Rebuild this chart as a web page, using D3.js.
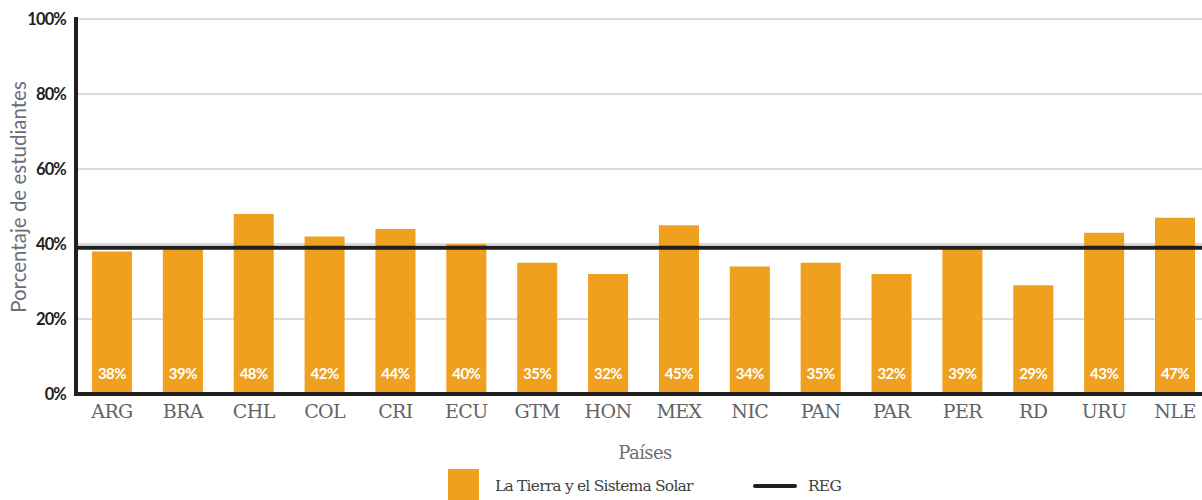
<!DOCTYPE html>
<html><head><meta charset="utf-8">
<script src="https://cdn.jsdelivr.net/npm/d3@7"></script>
<style>body{margin:0;background:#fff}svg{display:block}</style>
</head><body>
<svg id="c" width="1202" height="500"></svg>
<script>
const categories = ["ARG","BRA","CHL","COL","CRI","ECU","GTM","HON","MEX","NIC","PAN","PAR","PER","RD","URU","NLE"];
const values = [38,39,48,42,44,40,35,32,45,34,35,32,39,29,43,47];
const regValue = 39;
const yTicks = [0,20,40,60,80,100];
const seriesName = "La Tierra y el Sistema Solar";
const regName = "REG";

const svg = d3.select("#c");
const orange = "#EFA01E";
const x0 = 76, plotRight = 1202;
const step = (1175 - 112) / 15;
const x = d3.scaleBand().domain(categories)
  .range([112 - step/2, 1175 + step/2]).paddingInner(0.435).paddingOuter(0.2175);
const y = d3.scaleLinear().domain([0,100]).range([394,19]);

// gridlines
svg.append("g").selectAll("line").data(yTicks.filter(d=>d>0)).join("line")
  .attr("x1", x0).attr("x2", plotRight).attr("y1", d=>y(d)).attr("y2", d=>y(d))
  .attr("stroke","#cfcfcf").attr("stroke-width",1.5);

// bars
svg.append("g").selectAll("rect").data(values).join("rect")
  .attr("x",(d,i)=>x(categories[i])).attr("width",x.bandwidth())
  .attr("y",d=>y(d)).attr("height",d=>y(0)-y(d)).attr("fill",orange);

// bar labels
svg.append("g").selectAll("text").data(values).join("text")
  .attr("x",(d,i)=>x(categories[i])+x.bandwidth()/2).attr("y",379)
  .attr("text-anchor","middle").attr("fill","#fff")
  .attr("font-family","Lato").attr("font-weight","bold").attr("font-size",15)
  .attr("letter-spacing","-0.5")
  .text(d=>d+"%");

// REG line
svg.append("line").attr("x1",x0).attr("x2",plotRight).attr("y1",y(regValue)).attr("y2",y(regValue))
  .attr("stroke","#1f1d1e").attr("stroke-width",4);

// y axis
const ya = d3.axisLeft(y).tickValues(yTicks).tickFormat(d=>d+"%").tickSize(0).tickPadding(10);
const gy = svg.append("g").attr("transform",`translate(${x0},0)`).call(ya);
gy.select(".domain").remove();
gy.selectAll("text").attr("font-family","Lato").attr("font-weight","bold").attr("font-size",16.5)
  .attr("fill","#231f20").attr("dy","0.35em").attr("letter-spacing","-0.9");
svg.append("line").attr("x1",x0).attr("x2",x0).attr("y1",17).attr("y2",396)
  .attr("stroke","#231f20").attr("stroke-width",4);

// x axis
const xa = d3.axisBottom(x).tickSize(0).tickPadding(11);
const gx = svg.append("g").attr("transform",`translate(0,${y(0)})`).call(xa);
gx.select(".domain").remove();
gx.selectAll("text").attr("font-family","DejaVu Serif").attr("font-size",19)
  .attr("fill","#626366").attr("dy","0.71em").attr("letter-spacing","-0.6");
svg.append("line").attr("x1",x0-2).attr("x2",plotRight).attr("y1",y(0)).attr("y2",y(0))
  .attr("stroke","#231f20").attr("stroke-width",4);

// axis titles
svg.append("text").attr("transform","translate(26,197) rotate(-90)")
  .attr("text-anchor","middle").attr("font-family","Lato").attr("font-size",20.5)
  .attr("fill","#6d6e71").text("Porcentaje de estudiantes");
svg.append("text").attr("x",645).attr("y",459).attr("text-anchor","middle")
  .attr("font-family","DejaVu Serif").attr("font-size",18).attr("fill","#6d6e71")
  .attr("letter-spacing","-0.6").text("Países");

// legend
svg.append("rect").attr("x",448).attr("y",469).attr("width",31).attr("height",31).attr("fill",orange);
svg.append("text").attr("x",495).attr("y",491).attr("font-family","DejaVu Serif").attr("font-size",15.5)
  .attr("fill","#414042").attr("letter-spacing","-0.8").text(seriesName);
svg.append("line").attr("x1",755).attr("x2",795).attr("y1",486).attr("y2",486)
  .attr("stroke","#231f20").attr("stroke-width",4).attr("stroke-linecap","round");
svg.append("text").attr("x",808).attr("y",491).attr("font-family","DejaVu Serif").attr("font-size",15.5)
  .attr("fill","#414042").attr("letter-spacing","-0.8").text(regName);
</script>
</body></html>
